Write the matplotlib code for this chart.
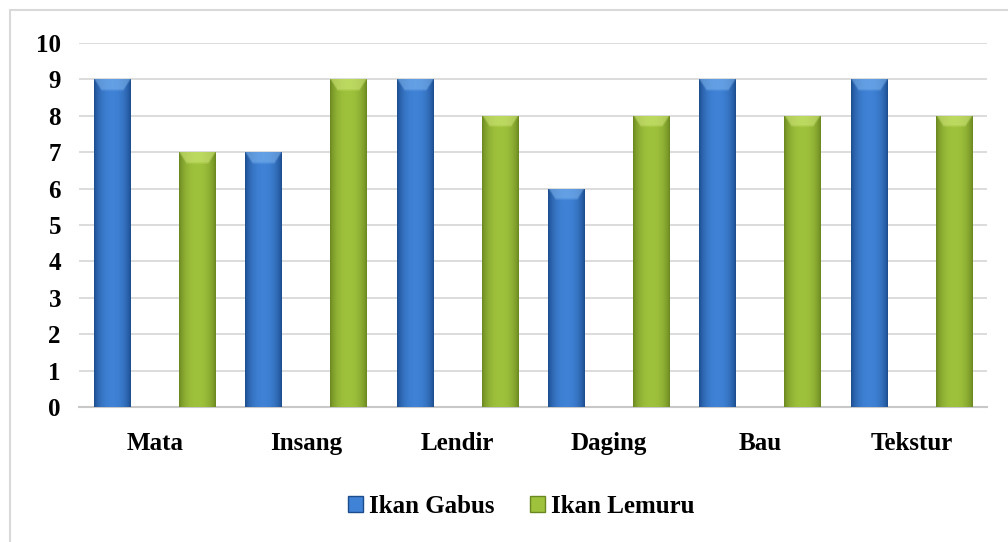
import numpy as np
import matplotlib
matplotlib.use("Agg")
import matplotlib.pyplot as plt
from matplotlib.patches import Rectangle, Patch
from matplotlib.colors import to_rgb

categories = ["Mata", "Insang", "Lendir", "Daging", "Bau", "Tekstur"]
ikan_gabus = [9, 7, 9, 6, 9, 9]
ikan_lemuru = [7, 9, 8, 8, 8, 8]
series_names = ["Ikan Gabus", "Ikan Lemuru"]
y_ticks = list(range(0, 11))

# colour ramps for the rounded bar faces: edge, centre, top highlight
palettes = {
    "Ikan Gabus": ("#1c4c8c", "#3f82d6", "#7fb6ef"),
    "Ikan Lemuru": ("#6a8820", "#9fc23c", "#d2ea7c"),
}

plt.rcParams["font.family"] = ["Liberation Serif", "DejaVu Serif"]
plt.rcParams["font.weight"] = "bold"

fig = plt.figure(figsize=(10.08, 5.42), dpi=100)
ax = fig.add_axes([79 / 1008, 135 / 542, 908 / 1008, 364 / 542])

x = np.arange(len(categories))
bar_w = 0.24
offset = 0.28


def shade_bar(bar, colors, px_per_unit_y):
    edge, centre, light = (np.array(to_rgb(c)) for c in colors)
    x0, y0 = bar.get_x(), bar.get_y()
    w, h = bar.get_width(), bar.get_height()
    ncols = 60
    nrows = max(int(h * px_per_unit_y), 2)
    u = np.linspace(-1, 1, ncols)
    # cylinder-like horizontal shading
    t = np.clip(1 - np.abs(u) ** 2.2, 0, 1) ** 0.8
    row = edge[None, :] * (1 - t[:, None]) + centre[None, :] * t[:, None]
    img = np.repeat(row[None, :, :], nrows, axis=0)
    # bevelled highlight at the top of the bar
    cap = 11.0
    depth = np.arange(nrows)[:, None] + 0.5
    limit = cap * np.clip((1 - np.abs(u)) / 0.4, 0, 1)[None, :]
    m = np.clip((limit - depth) / 3.0 + 0.5, 0, 1)
    hl = light[None, None, :] * 0.7 + img * 0.3
    img = img * (1 - m[:, :, None] * 0.8) + hl * (m[:, :, None] * 0.8)
    im = ax.imshow(img, extent=(x0, x0 + w, y0, y0 + h), origin="upper",
                   aspect="auto", interpolation="bilinear", zorder=3)
    im.set_clip_path(bar)


ax.set_xlim(-0.5, len(categories) - 0.5)
ax.set_ylim(0, 10)
px_y = 364 / 10

bars_a = ax.bar(x - offset, ikan_gabus, bar_w, color="none", edgecolor="none",
                zorder=2)
bars_b = ax.bar(x + offset, ikan_lemuru, bar_w, color="none", edgecolor="none",
                zorder=2)
for b in bars_a:
    shade_bar(b, palettes["Ikan Gabus"], px_y)
for b in bars_b:
    shade_bar(b, palettes["Ikan Lemuru"], px_y)

ax.set_yticks(y_ticks)
ax.set_yticklabels([str(v) for v in y_ticks], fontsize=18, fontweight="bold")
ax.set_xticks(x)
ax.set_xticklabels(categories, fontsize=18, fontweight="bold")
ax.tick_params(axis="y", length=0, pad=13)
ax.tick_params(axis="x", length=0, pad=18)
ax.yaxis.grid(True, color="#d9d9d9", linewidth=1.3)
ax.set_axisbelow(True)
for side in ("left", "right", "top"):
    ax.spines[side].set_visible(False)
ax.spines["bottom"].set_color("#c8c8c8")
ax.spines["bottom"].set_linewidth(1.5)

handles = [Patch(facecolor=palettes[n][1], edgecolor=palettes[n][0], linewidth=1)
           for n in series_names]
fig.legend(handles, series_names, loc="center", bbox_to_anchor=(0.517, 0.066),
           ncol=2, frameon=False, handlelength=0.6, handleheight=0.6,
           handletextpad=0.25, columnspacing=1.4,
           prop={"size": 18, "weight": "bold"})

# chart-area frame
fig.patches.append(Rectangle((10 / 1008, -0.05), 1.1, 1 - 10 / 542 + 0.05,
                             transform=fig.transFigure, fill=False,
                             edgecolor="#d9d9d9", linewidth=1.5))

fig.savefig("out.png", dpi=100)
